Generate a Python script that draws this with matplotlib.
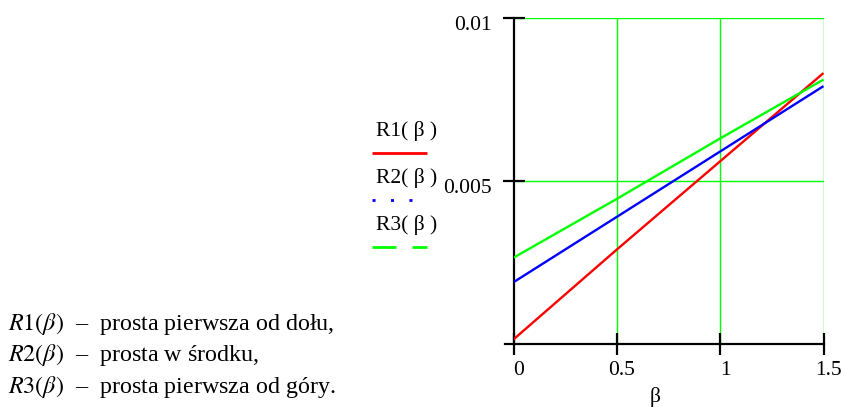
import matplotlib
matplotlib.use("Agg")
import matplotlib.pyplot as plt
import matplotlib.transforms as mtransforms

plt.rcParams['font.family'] = ['Liberation Serif', 'DejaVu Serif']
plt.rcParams['mathtext.fontset'] = 'stix'
plt.rcParams['lines.scale_dashes'] = False

# data
beta = [0, 0.5, 1.0, 1.5]
R1 = [0.00015, 0.0029, 0.0056, 0.0083]
R2 = [0.0019, 0.0039, 0.0059, 0.0079]
R3 = [0.00265, 0.00445, 0.0063, 0.0081]

x_ticks = [0, 0.5, 1, 1.5]
x_labels = ['0', '0.5', '1', '1.5']
y_ticks = [0.005, 0.01]
y_labels = ['0.005', '0.01']

names = ['R1( β )', 'R2( β )', 'R3( β )']
colors = ['#ff0000', '#0000ff', '#00ff00']
notes = [r'$R1(\beta)$  –  prosta pierwsza od dołu,',
         r'$R2(\beta)$  –  prosta w środku,',
         r'$R3(\beta)$  –  prosta pierwsza od góry.']

fig = plt.figure(figsize=(8.44, 4.07), dpi=100)
W, H = 844, 407
ax = fig.add_axes([513.5 / W, 1 - 344.3 / H, 310 / W, 326.8 / H])

# lines
for ys, c in zip([R1, R2, R3], colors):
    ax.plot(beta, ys, color=c, lw=1.7, solid_capstyle='butt', zorder=3)

ax.set_xlim(0, 1.5)
ax.set_ylim(0, 0.01)

# green grid
for xv in [0.5, 1.0, 1.5]:
    ax.axvline(xv, color='#00ff00', lw=1.0, zorder=1)
for yv in [0.005, 0.01]:
    ax.axhline(yv, color='#00ff00', lw=1.0, zorder=1)

for s in ['top', 'right']:
    ax.spines[s].set_visible(False)
for s in ['left', 'bottom']:
    ax.spines[s].set_linewidth(1.6)
    ax.spines[s].set_color('black')
ax.spines['bottom'].set_bounds(-0.04, 1.5)

ax.set_xticks(x_ticks)
ax.set_xticklabels(x_labels)
ax.set_yticks(y_ticks)
ax.set_yticklabels(y_labels)
ax.tick_params(direction='inout', length=16, width=1.6, labelsize=15.5, pad=4)
ax.tick_params(axis='y', pad=7.5)

# shift labels like the original
offx = mtransforms.ScaledTranslation(5 / 100, 0, fig.dpi_scale_trans)
for lab in ax.get_xticklabels():
    lab.set_transform(lab.get_transform() + offx)
offy = mtransforms.ScaledTranslation(0, -5 / 100, fig.dpi_scale_trans)
for lab in ax.get_yticklabels():
    lab.set_transform(lab.get_transform() + offy)

fig.text(655 / W, 1 - 397 / H, 'β', ha='center', va='center', fontsize=15.5)

# legend on the left of the axis
leg_text_y = [131, 178, 225]
leg_line_y = [152.7, 200, 246.7]
styles = [dict(ls='-'), dict(ls=(0, (2.2, 11.1))), dict(ls=(0, (17.3, 11.5)))]
for name, c, ty, ly, st in zip(names, colors, leg_text_y, leg_line_y, styles):
    fig.text(376 / W, 1 - ty / H, name, ha='left', va='center', fontsize=15.5)
    fig.add_artist(plt.Line2D([372 / W, 427 / W], [1 - ly / H, 1 - ly / H],
                              color=c, lw=2, solid_capstyle='butt',
                              dash_capstyle='butt', **st))

# notes at the bottom left
for i, t in enumerate(notes):
    fig.text(8 / W, 1 - (324 + 31.5 * i) / H, t, ha='left', va='center', fontsize=17.3)

fig.savefig('out.png', dpi=100)
